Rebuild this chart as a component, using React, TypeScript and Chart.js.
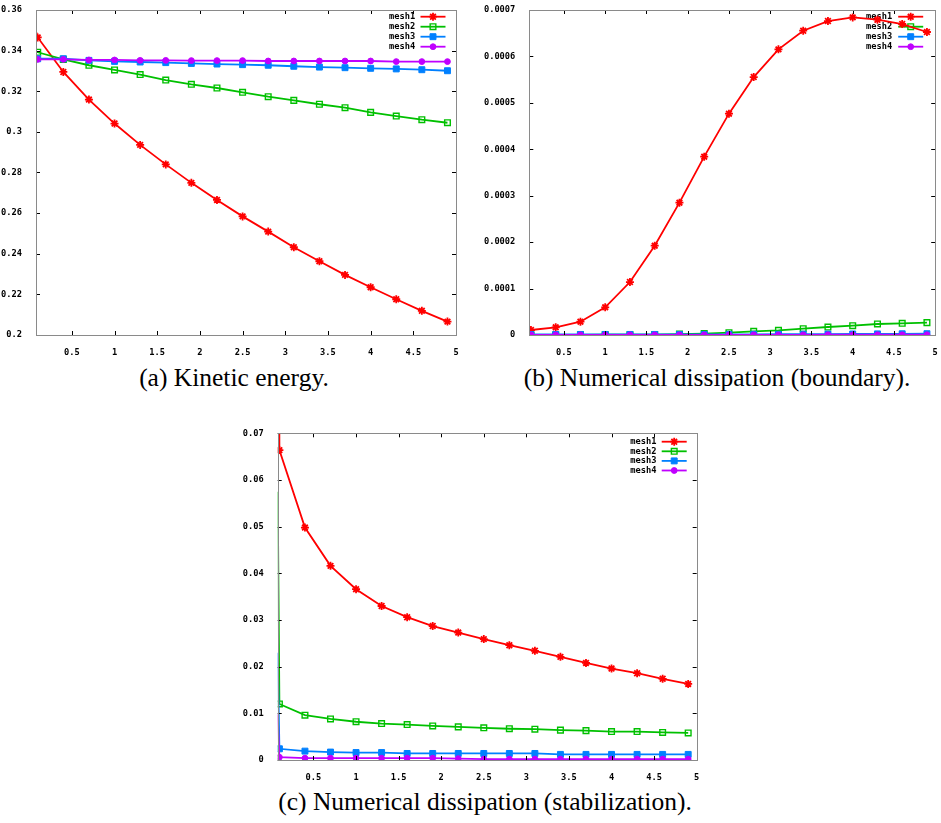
import React, { useEffect, useRef } from "react";
import { Chart, registerables } from "chart.js";
import { drawPoint } from "chart.js/helpers";

Chart.register(...registerables);

// ---------- data ----------
const times = [0.08, 0.1, 0.4, 0.7, 1.0, 1.3, 1.6, 1.9, 2.2, 2.5, 2.8, 3.1, 3.4, 3.7, 4.0, 4.3, 4.6, 4.9];
const seriesNames = ["mesh1", "mesh2", "mesh3", "mesh4"];
const xTicks = [0.5, 1, 1.5, 2, 2.5, 3, 3.5, 4, 4.5, 5];
const xTickLabels = ["0.5", "1", "1.5", "2", "2.5", "3", "3.5", "4", "4.5", "5"];

// (a) Kinetic energy
const kineticMesh1 = [0.3495, 0.3465, 0.3295, 0.3159, 0.3041, 0.2936, 0.284, 0.2749, 0.2665, 0.2584, 0.2509, 0.2432, 0.2363, 0.2296, 0.2235, 0.2176, 0.2119, 0.2066];
const kineticMesh2 = [0.3395, 0.3392, 0.3357, 0.3328, 0.3305, 0.3282, 0.3255, 0.3234, 0.3216, 0.3195, 0.3173, 0.3155, 0.3136, 0.3119, 0.3096, 0.3078, 0.306, 0.3045];
const kineticMesh3 = [0.336, 0.336, 0.336, 0.3352, 0.3347, 0.3344, 0.3341, 0.3337, 0.3334, 0.3331, 0.3328, 0.3323, 0.3319, 0.3316, 0.3313, 0.331, 0.3306, 0.3301];
const kineticMesh4 = [0.3357, 0.3357, 0.3357, 0.3354, 0.3354, 0.3352, 0.3352, 0.3351, 0.3351, 0.3351, 0.3349, 0.3349, 0.3349, 0.3349, 0.3349, 0.3346, 0.3346, 0.3346];
const kineticTicks = [0.2, 0.22, 0.24, 0.26, 0.28, 0.3, 0.32, 0.34, 0.36];
const kineticTickLabels = ["0.2", "0.22", "0.24", "0.26", "0.28", "0.3", "0.32", "0.34", "0.36"];

// (b) Numerical dissipation (boundary)
const boundaryMesh1 = [0.0000100, 0.0000108, 0.0000165, 0.0000287, 0.0000596, 0.0001141, 0.0001924, 0.000285, 0.0003841, 0.0004767, 0.0005556, 0.0006152, 0.0006554, 0.0006762, 0.0006841, 0.0006791, 0.0006698, 0.0006526];
const boundaryMesh2 = [0.0, 0.0000001, 0.0000002, 0.0000003, 0.0000005, 0.0000007, 0.000001, 0.000002, 0.000003, 0.000005, 0.000008, 0.00001, 0.0000136, 0.0000172, 0.00002, 0.0000237, 0.0000251, 0.0000266];
const boundaryMesh3 = [0.0000012, 0.0000012, 0.0000012, 0.0000012, 0.0000012, 0.0000012, 0.0000012, 0.0000013, 0.0000013, 0.0000014, 0.0000015, 0.0000016, 0.0000018, 0.000002, 0.0000022, 0.0000024, 0.0000026, 0.0000028];
const boundaryMesh4 = [0.0000004, 0.0000004, 0.0000004, 0.0000004, 0.0000004, 0.0000004, 0.0000004, 0.0000004, 0.0000004, 0.0000004, 0.0000004, 0.0000004, 0.0000004, 0.0000005, 0.0000005, 0.0000005, 0.0000005, 0.0000005];
const boundaryTicks = [0, 0.0001, 0.0002, 0.0003, 0.0004, 0.0005, 0.0006, 0.0007];
const boundaryTickLabels = ["0", "0.0001", "0.0002", "0.0003", "0.0004", "0.0005", "0.0006", "0.0007"];

// (c) Numerical dissipation (stabilization)
const stabMesh1 = [0.2, 0.0664, 0.0498, 0.0416, 0.0366, 0.033, 0.0306, 0.0287, 0.0273, 0.0259, 0.0246, 0.0234, 0.0221, 0.0208, 0.0196, 0.0186, 0.0174, 0.0163];
const stabMesh2 = [0.0575, 0.012, 0.0096, 0.0088, 0.0082, 0.0078, 0.0076, 0.0073, 0.0071, 0.0069, 0.0067, 0.0066, 0.0064, 0.0063, 0.0061, 0.0061, 0.0059, 0.0058];
const stabMesh3 = [0.023, 0.0024, 0.0019, 0.0017, 0.0016, 0.0016, 0.0014, 0.0014, 0.0014, 0.0014, 0.0014, 0.0014, 0.0012, 0.0012, 0.0012, 0.0012, 0.0012, 0.0012];
const stabMesh4 = [0.0098, 0.0006, 0.0004, 0.0004, 0.0004, 0.0004, 0.0004, 0.0004, 0.0003, 0.0002, 0.0002, 0.0002, 0.0002, 0.0002, 0.0002, 0.0002, 0.0002, 0.0002];
const stabTicks = [0, 0.01, 0.02, 0.03, 0.04, 0.05, 0.06, 0.07];
const stabTickLabels = ["0", "0.01", "0.02", "0.03", "0.04", "0.05", "0.06", "0.07"];

// ---------- styles ----------
const MONO = "'DejaVu Sans Mono', monospace";
const FONT_SIZE = 8.7;
const X_MIN = 0.08;
const X_MAX = 5;

const seriesStyles = [
  { color: "#ff0000", pointStyle: "star", radius: 4, fill: "#ff0000", pbw: 1.8, order: 4 },
  { color: "#00c000", pointStyle: "rect", radius: 4, fill: "rgba(0,0,0,0)", pbw: 1.4, order: 3 },
  { color: "#0080ff", pointStyle: "rect", radius: 4.2, fill: "#0080ff", pbw: 1, order: 2 },
  { color: "#c000ff", pointStyle: "circle", radius: 2.9, fill: "#c000ff", pbw: 1, order: 1 },
];

type PanelSpec = {
  left: number; top: number; width: number; height: number;
  axisW: number; padTop: number; padRight: number; xAxisH: number;
  yMin: number; yMax: number; yTicks: number[]; yLabels: string[];
  series: number[][];
  keyTop: number; keyGap: number; keyRight: number; keyTextGap: number;
};

const panelA: PanelSpec = {
  left: 0, top: 0, width: 470, height: 360,
  axisW: 36, padTop: 10, padRight: 14, xAxisH: 25,
  yMin: 0.2, yMax: 0.36, yTicks: kineticTicks, yLabels: kineticTickLabels,
  series: [kineticMesh1, kineticMesh2, kineticMesh3, kineticMesh4],
  keyTop: 6.7, keyGap: 10, keyRight: 10.5, keyTextGap: 5.3,
};
const panelB: PanelSpec = {
  left: 470, top: 0, width: 471, height: 360,
  axisW: 59.3, padTop: 10, padRight: 1, xAxisH: 25,
  yMin: 0, yMax: 0.0007, yTicks: boundaryTicks, yLabels: boundaryTickLabels,
  series: [boundaryMesh1, boundaryMesh2, boundaryMesh3, boundaryMesh4],
  keyTop: 6.7, keyGap: 10, keyRight: 12, keyTextGap: 6,
};
const panelC: PanelSpec = {
  left: 230, top: 420, width: 480, height: 365,
  axisW: 47.7, padTop: 13.3, padRight: 13.3, xAxisH: 25,
  yMin: 0, yMax: 0.07, yTicks: stabTicks, yLabels: stabTickLabels,
  series: [stabMesh1, stabMesh2, stabMesh3, stabMesh4],
  keyTop: 8.4, keyGap: 9.6, keyRight: 10, keyTextGap: 5.3,
};

// gnuplot-like frame with inward mirrored ticks
const gnuFrame = {
  id: "gnuFrame",
  afterDatasetsDraw(chart: any) {
    const { ctx, chartArea: a, scales } = chart;
    const x = scales.x, y = scales.y;
    const TL = 4;
    ctx.save();
    ctx.strokeStyle = "#000";
    ctx.lineWidth = 1;
    ctx.beginPath();
    x.ticks.forEach((t: any) => {
      const px = Math.round(x.getPixelForValue(t.value)) + 0.5;
      ctx.moveTo(px, a.bottom); ctx.lineTo(px, a.bottom - TL);
      ctx.moveTo(px, a.top); ctx.lineTo(px, a.top + TL);
    });
    y.ticks.forEach((t: any) => {
      const py = Math.round(y.getPixelForValue(t.value)) + 0.5;
      ctx.moveTo(a.left, py); ctx.lineTo(a.left + TL, py);
      ctx.moveTo(a.right, py); ctx.lineTo(a.right - TL, py);
    });
    ctx.stroke();
    ctx.strokeStyle = "#8a8a8a";
    ctx.strokeRect(Math.round(a.left) + 0.5, Math.round(a.top) + 0.5, Math.round(a.right - a.left), Math.round(a.bottom - a.top));
    ctx.restore();
  },
};

// gnuplot-like key (text left of sample)
const gnuKey = {
  id: "gnuKey",
  beforeDatasetsDraw(chart: any, _args: any, opts: any) {
    const { ctx, chartArea: a } = chart;
    ctx.save();
    ctx.font = `bold ${FONT_SIZE}px ${MONO}`;
    ctx.textAlign = "right";
    ctx.textBaseline = "middle";
    chart.data.datasets.forEach((ds: any, i: number) => {
      const y = a.top + opts.top + i * opts.gap;
      const x1 = a.right - opts.right;
      const x0 = x1 - 25;
      ctx.fillStyle = "#000";
      ctx.fillText(ds.label, x0 - opts.textGap, y);
      ctx.strokeStyle = ds.borderColor;
      ctx.lineWidth = ds.borderWidth;
      ctx.beginPath();
      ctx.moveTo(x0, y);
      ctx.lineTo(x1, y);
      ctx.stroke();
      ctx.fillStyle = ds.pointBackgroundColor;
      ctx.strokeStyle = ds.pointBorderColor;
      ctx.lineWidth = ds.pointBorderWidth;
      drawPoint(ctx, { pointStyle: ds.pointStyle, rotation: 0, radius: ds.keyRadius, borderWidth: ds.pointBorderWidth } as any, (x0 + x1) / 2, y);
    });
    ctx.restore();
  },
};

function Panel({ spec }: { spec: PanelSpec }) {
  const ref = useRef<HTMLCanvasElement>(null);
  useEffect(() => {
    const datasets = spec.series.map((vals, si) => {
      const st = seriesStyles[si];
      return {
        label: seriesNames[si],
        data: times.map((t, i) => ({ x: t, y: vals[i] })),
        borderColor: st.color,
        borderWidth: 1.8,
        pointStyle: st.pointStyle,
        pointRadius: times.map((_, i) => (i === 0 ? 0 : st.radius)),
        pointHoverRadius: 0,
        pointBackgroundColor: st.fill,
        pointBorderColor: st.color,
        pointBorderWidth: st.pbw,
        keyRadius: st.radius,
        tension: 0,
        fill: false,
        order: st.order,
      };
    });
    const tickFont = { family: MONO, size: FONT_SIZE, weight: "bold" as const };
    const chart = new Chart(ref.current!, {
      type: "line",
      data: { datasets: datasets as any },
      options: {
        animation: false,
        responsive: false,
        maintainAspectRatio: false,
        events: [],
        layout: { padding: { left: 0, top: spec.padTop, right: spec.padRight, bottom: 0 } },
        plugins: {
          legend: { display: false },
          tooltip: { enabled: false },
          gnuKey: { top: spec.keyTop, gap: spec.keyGap, right: spec.keyRight, textGap: spec.keyTextGap },
        } as any,
        scales: {
          x: {
            type: "linear",
            min: X_MIN,
            max: X_MAX,
            grid: { display: false },
            border: { display: false },
            afterBuildTicks: (s: any) => { s.ticks = xTicks.map((v) => ({ value: v })); },
            afterFit: (s: any) => { s.height = spec.xAxisH; s.paddingLeft = 0; s.paddingRight = 0; },
            ticks: {
              autoSkip: false,
              maxRotation: 0,
              padding: 5,
              color: "#000",
              font: tickFont,
              callback: (_v: any, i: number) => xTickLabels[i],
            },
          },
          y: {
            type: "linear",
            min: spec.yMin,
            max: spec.yMax,
            grid: { display: false },
            border: { display: false },
            afterBuildTicks: (s: any) => { s.ticks = spec.yTicks.map((v) => ({ value: v })); },
            afterFit: (s: any) => { s.width = spec.axisW; s.paddingTop = 0; s.paddingBottom = 0; },
            ticks: {
              autoSkip: false,
              padding: 6,
              color: "#000",
              font: tickFont,
              callback: (_v: any, i: number) => spec.yLabels[i],
            },
          },
        },
      },
      plugins: [gnuKey, gnuFrame],
    });
    return () => chart.destroy();
  }, [spec]);
  return (
    <canvas
      ref={ref}
      width={spec.width}
      height={spec.height}
      style={{ position: "absolute", left: spec.left, top: spec.top, width: spec.width, height: spec.height }}
    />
  );
}

const captionFont = "'Liberation Serif', 'DejaVu Serif', serif";
function Caption({ cx, top, text }: { cx: number; top: number; text: string }) {
  return (
    <div
      style={{
        position: "absolute", left: cx - 300, top, width: 600, textAlign: "center",
        fontFamily: captionFont, fontSize: 25.5, lineHeight: "25.5px", color: "#000", whiteSpace: "nowrap",
      }}
    >
      {text}
    </div>
  );
}

export default function App() {
  return (
    <div style={{ position: "fixed", left: 0, top: 0, width: 941, height: 823, overflow: "hidden", background: "#fff" }}>
      <Panel spec={panelA} />
      <Panel spec={panelB} />
      <Panel spec={panelC} />
      <Caption cx={234} top={365} text="(a) Kinetic energy." />
      <Caption cx={717} top={365} text="(b) Numerical dissipation (boundary)." />
      <Caption cx={485} top={789} text="(c) Numerical dissipation (stabilization)." />
    </div>
  );
}
